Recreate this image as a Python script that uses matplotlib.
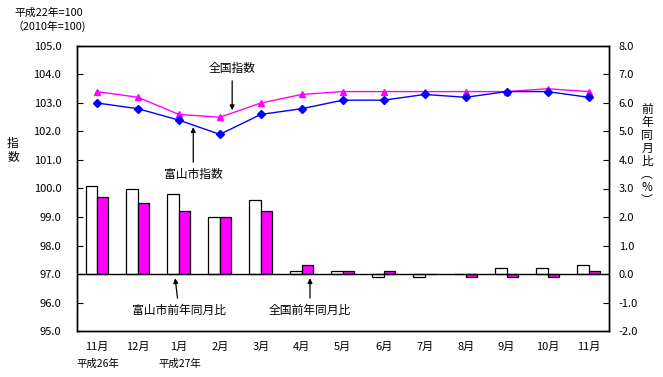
import numpy as np
import matplotlib
matplotlib.use('Agg')
import matplotlib.pyplot as plt

plt.rcParams['font.family'] = ['Noto Sans CJK JP', 'DejaVu Sans']

months = ['11月', '12月', '1月', '2月', '3月', '4月', '5月', '6月', '7月', '8月', '9月', '10月', '11月']
toyama_index = [103.0, 102.8, 102.4, 101.9, 102.6, 102.8, 103.1, 103.1, 103.3, 103.2, 103.4, 103.4, 103.2]
national_index = [103.4, 103.2, 102.6, 102.5, 103.0, 103.3, 103.4, 103.4, 103.4, 103.4, 103.4, 103.5, 103.4]
toyama_yoy = [3.1, 3.0, 2.8, 2.0, 2.6, 0.1, 0.1, -0.1, -0.1, 0.0, 0.2, 0.2, 0.3]
national_yoy = [2.7, 2.5, 2.2, 2.0, 2.2, 0.3, 0.1, 0.1, 0.0, -0.1, -0.1, -0.1, 0.1]
left_ticks = np.arange(95, 105.01, 1.0)
right_ticks = np.arange(-2, 8.01, 1.0)

MAG = '#FF00FF'
BLUE = '#0000FF'

fig = plt.figure(figsize=(6.63, 3.77), dpi=100)
ax = fig.add_axes([0.1154, 0.122, 0.8032, 0.756])
ax2 = ax.twinx()

x = np.arange(len(months))
w = 0.28

# bars (year-on-year, right axis)
ax2.bar(x - w / 2, toyama_yoy, width=w, color='white', edgecolor='black', linewidth=0.9)
ax2.bar(x + w / 2, national_yoy, width=w, color=MAG, edgecolor='black', linewidth=0.9)
ax2.axhline(0, color='black', linewidth=1.0)

# index lines (left axis)
ax2.set_zorder(1)
ax.set_zorder(2)
ax.patch.set_visible(False)
ax.plot(x, national_index, color=MAG, marker='^', markersize=5, linewidth=1.0)
ax.plot(x, toyama_index, color=BLUE, marker='D', markersize=4, linewidth=1.0)

ax.set_xlim(-0.5, len(months) - 0.5)
ax.set_ylim(95, 105)
ax2.set_ylim(-2, 8)
ax.set_yticks(left_ticks)
ax.set_yticklabels([f'{v:.1f}' for v in left_ticks])
ax2.set_yticks(right_ticks)
ax2.set_yticklabels([f'{v:.1f}' for v in right_ticks])
ax.set_xticks(x)
ax.set_xticklabels(months)
ax.tick_params(axis='x', length=0, pad=8, labelsize=8)
ax.tick_params(axis='y', direction='in', length=4, labelsize=8, pad=11)
ax2.tick_params(axis='y', direction='in', length=4, labelsize=8, pad=7)
for a in (ax, ax2):
    for s in a.spines.values():
        s.set_linewidth(1.0)

# axis titles
fig.text(13 / 663, 1 - 150 / 377, '指\n数', ha='center', va='center', fontsize=8.5, linespacing=1.0)
right_chars = ['前', '年', '同', '月', '比', '︵', '%', '︶']
fig.text(647 / 663, 1 - 155 / 377, '\n'.join(right_chars), ha='center', va='center',
         fontsize=8.5, linespacing=1.0)
fig.text(14 / 663, 1 - 13 / 377, '平成22年=100', ha='left', va='center', fontsize=7.8)
fig.text(13 / 663, 1 - 26 / 377, '（2010年=100)', ha='left', va='center', fontsize=7.8)
fig.text(98 / 663, 1 - 364 / 377, '平成26年', ha='center', va='center', fontsize=7.5)
fig.text(180 / 663, 1 - 364 / 377, '平成27年', ha='center', va='center', fontsize=7.5)

# callouts
arrow = dict(arrowstyle='-|>', color='black', lw=0.9, mutation_scale=7)
ax.annotate('全国指数', xy=(3.3, 102.65), xytext=(3.3, 104.2), ha='center', va='center',
            fontsize=8.5, arrowprops=arrow)
ax.annotate('富山市指数', xy=(2.35, 102.25), xytext=(2.35, 100.5), ha='center', va='center',
            fontsize=8.5, arrowprops=arrow)
ax2.annotate('富山市前年同月比', xy=(1.9, -0.05), xytext=(2.0, -1.27), ha='center', va='center',
             fontsize=8.5, arrowprops=arrow)
ax2.annotate('全国前年同月比', xy=(5.2, -0.05), xytext=(5.2, -1.27), ha='center', va='center',
             fontsize=8.5, arrowprops=arrow)

fig.savefig('out.png', dpi=100)
plt.close(fig)
